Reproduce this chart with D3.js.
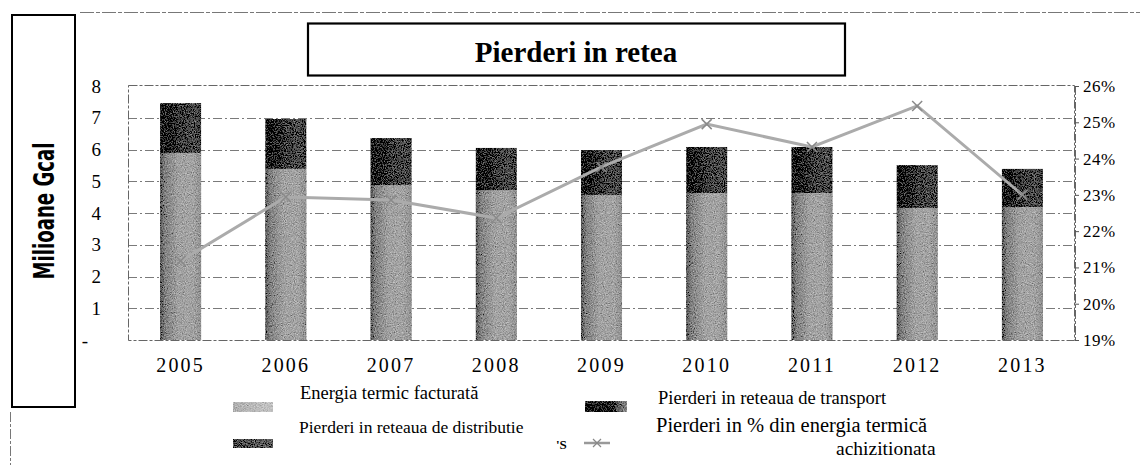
<!DOCTYPE html>
<html>
<head>
<meta charset="utf-8">
<script src="https://cdn.jsdelivr.net/npm/d3@7"></script>
<style>
  html, body { margin: 0; padding: 0; background: #fff; }
  svg { display: block; }
</style>
</head>
<body>
<svg id="chart" width="1140" height="465"></svg>
<script>
// ---- data ----
const years = ["2005","2006","2007","2008","2009","2010","2011","2012","2013"];
const energiaFacturata = [5.89, 5.39, 4.88, 4.72, 4.57, 4.63, 4.63, 4.16, 4.19];
const pierderiRetea    = [1.57, 1.57, 1.48, 1.33, 1.41, 1.45, 1.45, 1.35, 1.20];
const pierderiProcent  = [21.18, 22.94, 22.86, 22.36, 23.77, 24.95, 24.32, 25.45, 23.0];
const leftTicks  = [0, 1, 2, 3, 4, 5, 6, 7, 8];
const rightTicks = [19, 20, 21, 22, 23, 24, 25, 26];
const titleText = "Pierderi in retea";
const yLabelText = "Milioane Gcal";
const legendLabels = [
  "Energia termic facturată",
  "Pierderi in reteaua de transport",
  "Pierderi in reteaua de distributie",
  "Pierderi in % din energia termică",
  "achizitionata"
];

const svg = d3.select("#chart");
const serif = "'Liberation Serif', 'Times New Roman', serif";

// gradients & texture
const defs = svg.append("defs");
function grad(id, stops) {
  const g = defs.append("linearGradient").attr("id", id).attr("x1", "0").attr("x2", "1").attr("y1", "0").attr("y2", "0");
  stops.forEach(s => g.append("stop").attr("offset", s[0]).attr("stop-color", s[1]));
}
grad("gLight", [[0, "#555"], [0.12, "#828282"], [0.45, "#a2a2a2"], [0.8, "#a4a4a4"], [1, "#909090"]]);
grad("gDark",  [[0, "#000"], [0.25, "#151515"], [0.5, "#404040"], [0.85, "#4e4e4e"], [1, "#3e3e3e"]]);
grad("gSwLight", [[0, "#b0b0b0"], [1, "#c4c4c4"]]);
grad("gSwTrans", [[0, "#000"], [0.65, "#000"], [0.75, "#555"], [1, "#888"]]);
grad("gSwDist", [[0, "#4a4a4a"], [1, "#606060"]]);

const f = defs.append("filter").attr("id", "speckle").attr("x", 0).attr("y", 0).attr("width", 1).attr("height", 1);
f.append("feTurbulence").attr("type", "fractalNoise").attr("baseFrequency", 0.9).attr("numOctaves", 2).attr("seed", 4).attr("result", "n");
f.append("feColorMatrix").attr("in", "n").attr("type", "matrix")
  .attr("values", "0.33 0.33 0.33 0 0  0.33 0.33 0.33 0 0  0.33 0.33 0.33 0 0  0 0 0 0 1").attr("result", "g");
f.append("feComposite").attr("in", "SourceGraphic").attr("in2", "g").attr("operator", "arithmetic")
  .attr("k1", 0).attr("k2", 1).attr("k3", 1.0).attr("k4", -0.5).attr("result", "c");
f.append("feComposite").attr("in", "c").attr("in2", "SourceGraphic").attr("operator", "in");

// scales
const x = d3.scaleBand().domain(years).range([128, 1075]).paddingInner(0.61).paddingOuter(0.305);
const y = d3.scaleLinear().domain([0, 8]).range([340, 86]);
const y2 = d3.scaleLinear().domain([19, 26]).range([340, 86]);

// frame lines
svg.append("line").attr("x1", 80).attr("x2", 1140).attr("y1", 12.5).attr("y2", 12.5)
  .attr("stroke", "#777").attr("stroke-width", 1).attr("stroke-dasharray", "14,2,4,2");
svg.append("line").attr("x1", 10.5).attr("x2", 10.5).attr("y1", 412).attr("y2", 465)
  .attr("stroke", "#777").attr("stroke-width", 1).attr("stroke-dasharray", "10,2,3,2");

// y label box
svg.append("rect").attr("x", 12).attr("y", 15).attr("width", 63).attr("height", 392)
  .attr("fill", "none").attr("stroke", "#000").attr("stroke-width", 2);
svg.append("text").attr("transform", "translate(54,211) rotate(-90)")
  .attr("text-anchor", "middle")
  .attr("textLength", 137).attr("lengthAdjust", "spacingAndGlyphs")
  .style("font-family", "'Liberation Sans Narrow', 'DejaVu Sans Condensed', 'Arial Narrow', sans-serif")
  .style("font-weight", "bold").style("font-size", "28px")
  .text(yLabelText);

// title box
svg.append("rect").attr("x", 308).attr("y", 23.5).attr("width", 537).attr("height", 52)
  .attr("fill", "none").attr("stroke", "#000").attr("stroke-width", 2.2);
svg.append("text").attr("x", 576).attr("y", 62).attr("text-anchor", "middle")
  .style("font-family", serif).style("font-weight", "bold").style("font-size", "29px")
  .text(titleText);

// gridlines
const grid = svg.append("g");
grid.selectAll("line").data(leftTicks.filter(d => d > 0 && d < 8)).join("line")
  .attr("x1", 128).attr("x2", 1075).attr("y1", d => Math.round(y(d)) + 0.5).attr("y2", d => Math.round(y(d)) + 0.5)
  .attr("stroke", "#7a7a7a").attr("stroke-width", 1).attr("stroke-dasharray", "9,3,2,3");
// plot border
svg.append("rect").attr("x", 128.5).attr("y", 85.5).attr("width", 946).attr("height", 255)
  .attr("fill", "none").attr("stroke", "#666").attr("stroke-width", 1).attr("stroke-dasharray", "9,2,3,2");

// bars
const barsG = svg.append("g").attr("filter", "url(#speckle)");
years.forEach((yr, i) => {
  barsG.append("rect").attr("x", x(yr)).attr("width", x.bandwidth())
    .attr("y", y(energiaFacturata[i])).attr("height", y(0) - y(energiaFacturata[i]))
    .attr("fill", "url(#gLight)");
  const top = energiaFacturata[i] + pierderiRetea[i];
  barsG.append("rect").attr("x", x(yr)).attr("width", x.bandwidth())
    .attr("y", y(top)).attr("height", y(energiaFacturata[i]) - y(top))
    .attr("fill", "url(#gDark)");
});

// line series
const cx = d => x(d) + x.bandwidth() / 2;
const lineGen = d3.line().x((d, i) => cx(years[i])).y(d => y2(d));
svg.append("path").datum(pierderiProcent).attr("d", lineGen)
  .attr("fill", "none").attr("stroke", "#ababab").attr("stroke-width", 3);
const mk = svg.append("g");
pierderiProcent.forEach((p, i) => {
  const px = cx(years[i]), py = y2(p);
  mk.append("path").attr("d", `M${px - 5},${py - 5}L${px + 5},${py + 5}M${px - 5},${py + 5}L${px + 5},${py - 5}`)
    .attr("stroke", "#8a8a8a").attr("stroke-width", 1.5);
});

// left axis
const axL = svg.append("g").attr("transform", "translate(101,0)")
  .call(d3.axisLeft(y).tickValues(leftTicks).tickSize(0).tickPadding(0).tickFormat(d => d === 0 ? "-" : d));
axL.select(".domain").remove();
axL.selectAll("text").style("font-family", serif).style("font-size", "19px").attr("fill", "#000")
  .attr("dx", d => d === 0 ? -13 : 0);

// right axis
svg.append("line").attr("x1", 1075.5).attr("x2", 1075.5).attr("y1", 86).attr("y2", 341)
  .attr("stroke", "#666").attr("stroke-dasharray", "9,2,3,2");
const axR = svg.append("g").attr("transform", "translate(1075,0)")
  .call(d3.axisRight(y2).tickValues(rightTicks).tickSize(4).tickPadding(4).tickFormat(d => d + "%"));
axR.select(".domain").remove();
axR.selectAll(".tick line").attr("stroke", "#555");
axR.selectAll("text").style("font-family", serif).style("font-size", "17px").attr("fill", "#000")
  .style("letter-spacing", "0.5px");

// x axis labels
const axB = svg.append("g").attr("transform", "translate(0,357)")
  .call(d3.axisBottom(x).tickSize(0).tickPadding(0));
axB.select(".domain").remove();
axB.selectAll("text").style("font-family", serif).style("font-size", "20px")
  .style("letter-spacing", "2.2px").attr("fill", "#000").attr("dy", "0.75em");

// legend
const lg = svg.append("g").style("font-family", serif).attr("fill", "#000");
const sw = lg.append("g").attr("filter", "url(#speckle)");
sw.append("rect").attr("x", 233).attr("y", 402).attr("width", 40).attr("height", 10).attr("fill", "url(#gSwLight)");
sw.append("rect").attr("x", 585).attr("y", 401).attr("width", 42).attr("height", 11).attr("fill", "url(#gSwTrans)");
sw.append("rect").attr("x", 233).attr("y", 439).attr("width", 40).attr("height", 9).attr("fill", "url(#gSwDist)");
lg.append("text").attr("x", 300).attr("y", 399).style("font-size", "18.5px").text(legendLabels[0]);
lg.append("text").attr("x", 658).attr("y", 404).style("font-size", "18.5px").text(legendLabels[1]);
lg.append("text").attr("x", 299).attr("y", 433).style("font-size", "17.5px").text(legendLabels[2]);
lg.append("text").attr("x", 556).attr("y", 449).style("font-size", "13px").style("font-weight", "bold").text("'S");
lg.append("line").attr("x1", 584).attr("x2", 610).attr("y1", 443).attr("y2", 443).attr("stroke", "#999").attr("stroke-width", 2.5);
lg.append("path").attr("d", "M593,439L601,447M593,447L601,439").attr("stroke", "#888").attr("stroke-width", 1.2);
lg.append("text").attr("x", 656).attr("y", 432).style("font-size", "20.5px").text(legendLabels[3]);
lg.append("text").attr("x", 836).attr("y", 455).style("font-size", "19.5px").text(legendLabels[4]);
</script>
</body>
</html>
